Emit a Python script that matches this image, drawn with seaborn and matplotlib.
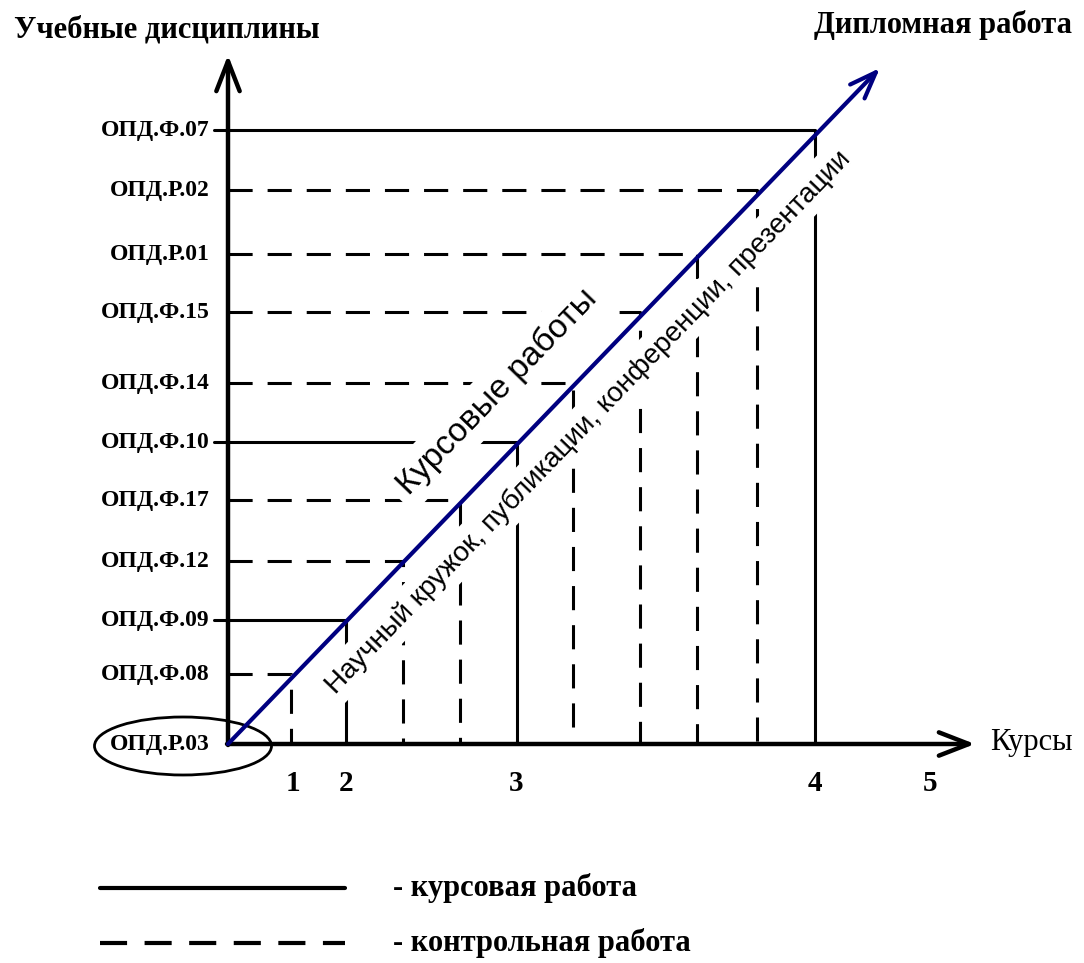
import numpy as np
import pandas as pd
import matplotlib.pyplot as plt
import seaborn as sns
from matplotlib.patches import Ellipse

# Дисциплины снизу вверх (уровень по оси Y и положение на оси курсов)
disciplines = ['ОПД.Р.03', 'ОПД.Ф.08', 'ОПД.Ф.09', 'ОПД.Ф.12', 'ОПД.Ф.17', 'ОПД.Ф.10',
               'ОПД.Ф.14', 'ОПД.Ф.15', 'ОПД.Р.01', 'ОПД.Р.02', 'ОПД.Ф.07']
levels = [0, 70, 124, 183, 244, 302, 361, 432, 490, 554, 614]
positions = [0, 63, 118, 175, 232, 289, 345, 412, 469, 529, 587]
work_type = [None, 'контрольная', 'курсовая', 'контрольная', 'контрольная', 'курсовая',
             'контрольная', 'контрольная', 'контрольная', 'контрольная', 'курсовая']

# Курсы на оси X
courses = ['1', '2', '3', '4', '5']
course_pos = [65, 118, 288, 587, 702]

# Конец диагонали (дипломная работа)
diag_end = (652, 676)

legend_kinds = ['курсовая', 'контрольная']
legend_labels = ['- курсовая работа', '- контрольная работа']

sns.set_theme(style='white')
plt.rcParams['font.family'] = ['Liberation Serif', 'DejaVu Serif']
plt.rcParams['text.color'] = 'black'

fig = plt.figure(figsize=(10.84, 9.63), dpi=100)
ax = fig.add_axes([0, 0, 1, 1])

dash_map = {'курсовая': '', 'контрольная': (7.9, 4.9)}

# Линии от дисциплины к диагонали и вниз к оси курсов
rows = []
for name, lvl, pos, kind in zip(disciplines[1:], levels[1:], positions[1:], work_type[1:]):
    start = -14 if kind == 'курсовая' else 0
    rows.append({'name': name, 'x': start, 'y': lvl, 'kind': kind})
    rows.append({'name': name, 'x': pos, 'y': lvl, 'kind': kind})
    rows.append({'name': name, 'x': pos, 'y': 0, 'kind': kind})
df = pd.DataFrame(rows)
sns.lineplot(data=df, x='x', y='y', units='name', style='kind', estimator=None, sort=False,
             color='black', lw=2.2, dashes=dash_map, legend=False, ax=ax, zorder=2)

# Подписи дисциплин
for name, lvl in zip(disciplines, levels):
    ax.text(-18, lvl, name, ha='right', va='center', fontsize=17, fontweight='bold')

ax.add_patch(Ellipse((-45, -2), 177, 58, fill=False, lw=2, ec='black'))

# Оси со стрелками
arrow_kw = dict(arrowstyle='->,head_length=1.8,head_width=0.7', lw=3.2, color='black',
                shrinkA=0, shrinkB=0)
ax.annotate('', xy=(0, 689), xytext=(0, -1), arrowprops=arrow_kw, zorder=3)
ax.annotate('', xy=(747, 0), xytext=(-1, 0), arrowprops=arrow_kw, zorder=3)

# Диагональ
ax.annotate('', xy=diag_end, xytext=(0, 0),
            arrowprops=dict(arrowstyle='->,head_length=1.6,head_width=0.6', lw=3,
                            color='#000080', shrinkA=0, shrinkB=0), zorder=6)

for c, p in zip(courses, course_pos):
    ax.text(p, -39, c, ha='center', va='center', fontsize=21, fontweight='bold')

ax.text(-61, 714, 'Учебные дисциплины', ha='center', va='center', fontsize=22, fontweight='bold')
ax.text(715, 719, 'Дипломная работа', ha='center', va='center', fontsize=22, fontweight='bold')
ax.text(762, 2, 'Курсы', ha='left', va='center', fontsize=22)

angle = np.degrees(np.arctan2(diag_end[1], diag_end[0]))
box = dict(boxstyle='square,pad=0.25', fc='white', ec='none')
ax.text(269, 352, 'Курсовые работы', rotation=angle, rotation_mode='anchor', ha='center',
        va='center', fontsize=24, family='Liberation Sans', bbox=box, zorder=5)
ax.text(360, 322, 'Научный кружок, публикации, конференции, презентации', rotation=angle,
        rotation_mode='anchor', ha='center', va='center', fontsize=20, family='Liberation Sans',
        bbox=box, zorder=5)

# Условные обозначения
leg_rows = []
for i, kind in enumerate(legend_kinds):
    yy = -144 - 55 * i
    leg_rows.append({'kind': kind, 'x': -128, 'y': yy})
    leg_rows.append({'kind': kind, 'x': 117, 'y': yy})
    ax.text(165, yy, legend_labels[i], ha='left', va='center', fontsize=22, fontweight='bold')
leg_df = pd.DataFrame(leg_rows)
sns.lineplot(data=leg_df, x='x', y='y', units='kind', style='kind', estimator=None, sort=False,
             color='black', lw=3, dashes={'курсовая': '', 'контрольная': (6.5, 4.2)},
             legend=False, ax=ax)
ax.set_xlim(-228, 856)
ax.set_ylim(-219, 744)
ax.axis('off')

fig.savefig('out.png', dpi=100)
